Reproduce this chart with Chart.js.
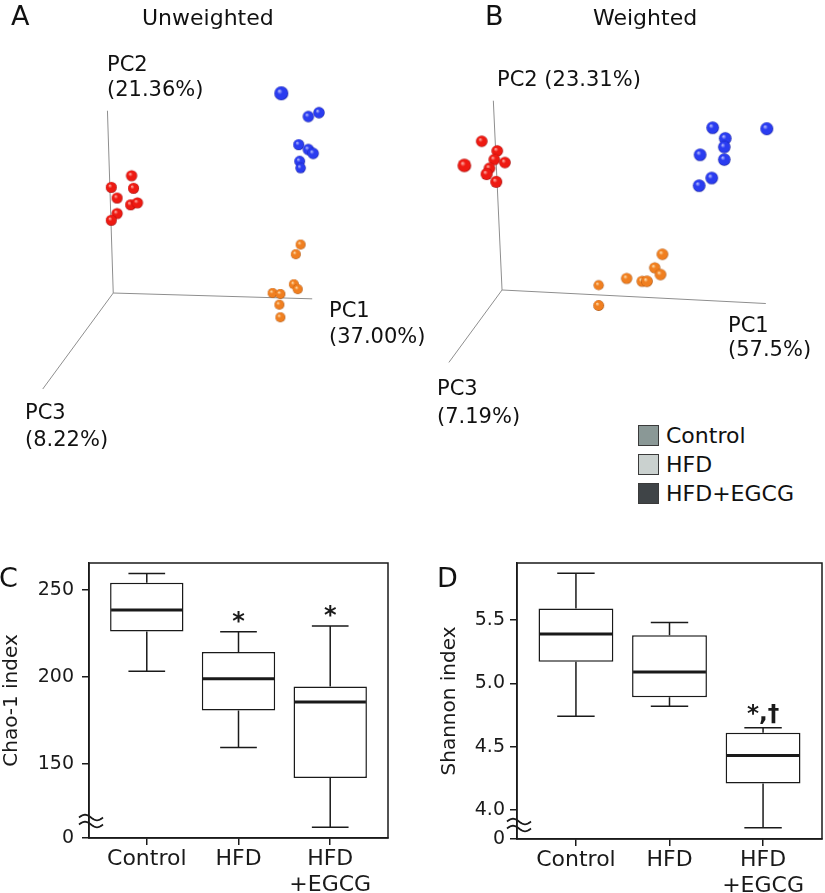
<!DOCTYPE html>
<html>
<head>
<meta charset="utf-8">
<script src="https://cdn.jsdelivr.net/npm/chart.js@4.4.1/dist/chart.umd.min.js"></script>
<style>
body{margin:0;background:#fff;}
#wrap{position:relative;width:825px;height:893px;overflow:hidden;font-family:"DejaVu Sans",sans-serif;color:#111;}
canvas{position:absolute;}
.t{position:absolute;white-space:pre;line-height:1;}
.sw{position:absolute;left:638px;width:21px;height:21px;box-sizing:border-box;border:1px solid #3a3a3a;}
</style>
</head>
<body>
<div id="wrap">
<canvas id="pcoaA" width="410" height="460" style="left:0;top:0"></canvas>
<canvas id="pcoaB" width="415" height="410" style="left:410px;top:0"></canvas>
<canvas id="chao" width="410" height="353" style="left:0;top:540px"></canvas>
<canvas id="shannon" width="415" height="353" style="left:410px;top:540px"></canvas>

<div class="t" style="left:11px;top:2px;font-size:27px">A</div>
<div class="t" style="left:142px;top:7px;font-size:22px">Unweighted</div>
<div class="t" style="left:107px;top:52px;font-size:21px;line-height:25px">PC2
(21.36%)</div>
<div class="t" style="left:329px;top:297px;font-size:21px;line-height:26px">PC1
(37.00%)</div>
<div class="t" style="left:25px;top:399px;font-size:21px;line-height:27px">PC3
(8.22%)</div>

<div class="t" style="left:485px;top:2px;font-size:27px">B</div>
<div class="t" style="left:593px;top:7px;font-size:22px">Weighted</div>
<div class="t" style="left:497px;top:67px;font-size:21px;line-height:25px">PC2 (23.31%)</div>
<div class="t" style="left:728px;top:313px;font-size:21px;line-height:24px">PC1
(57.5%)</div>
<div class="t" style="left:437px;top:374px;font-size:21px;line-height:28px">PC3
(7.19%)</div>

<div class="sw" style="top:425px;background:#8a9896"></div>
<div class="sw" style="top:454px;background:#cad1cf"></div>
<div class="sw" style="top:483px;background:#3f4447"></div>
<div class="t" style="left:666px;top:425px;font-size:22px">Control</div>
<div class="t" style="left:666px;top:454px;font-size:22px">HFD</div>
<div class="t" style="left:666px;top:483px;font-size:22px">HFD+EGCG</div>

<div class="t" style="left:-1px;top:564px;font-size:27px">C</div>
<div class="t" style="left:437px;top:564px;font-size:27px">D</div>
</div>

<script>
// PCoA coordinates, projected to the figure plane (origin = corner of the axes, y up)
const unwRed = [[19,121],[-2,109],[21,108],[4,98],[18,91],[25,93],[4,82],[-2,75]];
const unwBlue = [[174,206],[202,182],[213,186],[192,153],[202,148],[207,144],[193,136],[194,129]];
const unwOrange = [[194,50],[189,40],[187,9],[191,4],[165,0],[173,-1],[172,-12],[173,-25]];
const unwAxisEnds = [[206,-6],[-6,188],[-73,-99]];

const wRed = [[-21,154],[-5,144],[-8,135],[3,132],[-39,129],[-13,126],[-16,120],[-6,112]];
const wBlue = [[218,168],[274,167],[231,157],[230,148],[205,140],[230,135],[217,116],[204,108]];
const wOrange = [[166,37],[158,23],[164,16],[129,12],[145,9],[150,9],[100,5],[100,-16]];
const wAxisEnds = [[273,-14],[-9,196],[-55,-75]];

// alpha diversity box plots
const groupLabels = ['Control', 'HFD', ['HFD', '+EGCG']];
const chaoLow = [203.3, 159.5, 113.7];
const chaoQ1 = [226.1, 180.7, 142.0];
const chaoMed = [238.5, 199.0, 185.7];
const chaoQ3 = [254.2, 214.3, 194.6];
const chaoHigh = [259.4, 226.0, 229.3];
const chaoTicks = [150, 200, 250];
const chaoMarks = ['', '*', '*'];

const shanLow = [4.74, 4.82, 3.86];
const shanQ1 = [5.17, 4.89, 4.21];
const shanMed = [5.39, 5.09, 4.43];
const shanQ3 = [5.59, 5.38, 4.61];
const shanHigh = [5.87, 5.48, 4.65];
const shanTicks = [4.0, 4.5, 5.0, 5.5];
const shanMarks = ['', '', '*,\u2020'];

const ink = '#1a1a1a';
Chart.defaults.font.family = '"DejaVu Sans", sans-serif';
Chart.defaults.color = ink;

const red = {light: '#ffb0a8', base: '#ee1a12', dark: '#9a0606'};
const blue = {light: '#b8beff', base: '#2a3cf0', dark: '#10199c'};
const orange = {light: '#ffe0b0', base: '#f07f20', dark: '#a04a08'};

const sphereCache = {};
function sphere(col, r) {
    const key = col.base + r;
    if (sphereCache[key]) return sphereCache[key];
    const c = document.createElement('canvas');
    const s = Math.ceil(r * 2) + 2;
    c.width = c.height = s;
    const g = c.getContext('2d');
    const m = s / 2;
    const grad = g.createRadialGradient(m - r * 0.3, m - r * 0.35, r * 0.05, m, m, r);
    grad.addColorStop(0, col.light);
    grad.addColorStop(0.35, col.base);
    grad.addColorStop(0.85, col.base);
    grad.addColorStop(1, col.dark);
    g.fillStyle = grad;
    g.beginPath();
    g.arc(m, m, r, 0, Math.PI * 2);
    g.fill();
    sphereCache[key] = c;
    return c;
}

function pcoaChart(id, xr, yr, axisEnds, groups) {
    const lines = axisEnds.map(e => ({
        data: [{x: 0, y: 0}, {x: e[0], y: e[1]}],
        showLine: true, borderColor: '#8e8e8e', borderWidth: 1, pointRadius: 0, order: 10
    }));
    const pts = groups.map(g => ({
        data: g.pts.map(p => ({x: p[0], y: p[1]})),
        pointStyle: c => sphere(g.col, g.r[c.dataIndex] || 5),
        pointRadius: 6, order: 0
    }));
    return new Chart(document.getElementById(id), {
        type: 'scatter',
        data: {datasets: lines.concat(pts)},
        options: {
            responsive: false,
            animation: false,
            layout: {padding: 0},
            plugins: {legend: {display: false}, tooltip: {enabled: false}},
            scales: {
                x: {type: 'linear', display: false, min: xr[0], max: xr[1]},
                y: {type: 'linear', display: false, min: yr[0], max: yr[1]}
            }
        }
    });
}

pcoaChart('pcoaA', [-110, 300], [-165, 295], unwAxisEnds, [
    {pts: unwRed, col: red, r: [5.6, 5.5, 5.5, 5.5, 5.5, 5.6, 5.6, 5.5]},
    {pts: unwBlue, col: blue, r: [7, 5.7, 5.7, 5.5, 5.7, 5.7, 5.4, 5.2]},
    {pts: unwOrange, col: orange, r: [5, 5, 5, 5, 5, 5, 5, 5]}
]);
pcoaChart('pcoaB', [-88, 327], [-117, 293], wAxisEnds, [
    {pts: wRed, col: red, r: [5.8, 5.8, 5.8, 5.8, 6.8, 5.8, 6, 6]},
    {pts: wBlue, col: blue, r: [6.3, 6.5, 6.3, 6.2, 6.3, 6.2, 6.3, 6.3]},
    {pts: wOrange, col: orange, r: [5.8, 5.6, 5.8, 5.6, 5.6, 5.8, 5.1, 5.4]}
]);

function boxPlot(o) {
    function wave(ctx, x0, x1, y0) {
        for (let k = 0; k <= 24; k++) {
            const t = k / 24;
            const px = x0 + t * (x1 - x0);
            const py = y0 - 2.8 * Math.sin(t * Math.PI * 2);
            if (k === 0) ctx.moveTo(px, py); else ctx.lineTo(px, py);
        }
    }
    return {
        id: 'boxPlot',
        afterDatasetsDraw(chart) {
            const {ctx, chartArea: a, scales: {x, y}} = chart;
            const bars = chart.getDatasetMeta(0).data;
            ctx.save();
            ctx.strokeStyle = ink;
            ctx.fillStyle = ink;
            o.med.forEach((m, i) => {
                const cx = x.getPixelForValue(i + 1);
                const hw = bars[i].width / 2;
                const cap = hw / 2;
                const yLow = y.getPixelForValue(o.low[i]);
                const yHigh = y.getPixelForValue(o.high[i]);
                ctx.lineWidth = 1.5;
                ctx.beginPath();
                ctx.moveTo(cx, y.getPixelForValue(o.q3[i]));
                ctx.lineTo(cx, yHigh);
                ctx.moveTo(cx - cap, yHigh);
                ctx.lineTo(cx + cap, yHigh);
                ctx.moveTo(cx, y.getPixelForValue(o.q1[i]));
                ctx.lineTo(cx, yLow);
                ctx.moveTo(cx - cap, yLow);
                ctx.lineTo(cx + cap, yLow);
                ctx.stroke();
                ctx.lineWidth = 3;
                ctx.beginPath();
                ctx.moveTo(cx - hw + 1, y.getPixelForValue(m));
                ctx.lineTo(cx + hw - 1, y.getPixelForValue(m));
                ctx.stroke();
                if (o.marks[i]) {
                    ctx.font = o.markFont;
                    ctx.textAlign = 'center';
                    ctx.textBaseline = 'alphabetic';
                    const mt = ctx.measureText(o.marks[i]);
                    ctx.fillText(o.marks[i], cx, yHigh - o.markGap - mt.actualBoundingBoxDescent);
                }
            });
            ctx.lineWidth = 1.5;
            ctx.strokeRect(a.left, a.top, a.width, a.height);
            // axis break sign
            const by = a.bottom - o.breakGap;
            ctx.lineWidth = 1.8;
            ctx.beginPath();
            wave(ctx, a.left - 10, a.left + 14, by - 3.5);
            wave(ctx, a.left - 10, a.left + 14, by + 3.5);
            ctx.stroke();
            ctx.restore();
        }
    };
}

function boxChart(id, o) {
    return new Chart(document.getElementById(id), {
        type: 'bar',
        data: {
            datasets: [{
                data: o.q1.map((v, i) => ({x: i + 1, y: [v, o.q3[i]]})),
                backgroundColor: '#fff',
                borderColor: ink,
                borderWidth: 1.5,
                borderSkipped: false,
                categoryPercentage: 1,
                barPercentage: 0.8
            }]
        },
        options: {
            responsive: false,
            animation: false,
            layout: {padding: {top: 23, right: o.padRight, left: 0, bottom: 0}},
            plugins: {legend: {display: false}, tooltip: {enabled: false}},
            scales: {
                x: {
                    type: 'linear', min: 0.37, max: 3.63, offset: false,
                    afterBuildTicks: s => { s.ticks = groupLabels.map((_, i) => ({value: i + 1})); },
                    afterFit: s => { s.height = o.xHeight; },
                    ticks: {
                        callback: v => groupLabels[v - 1],
                        font: {size: 22, lineHeight: 1.15}, color: ink,
                        padding: 2, maxRotation: 0, autoSkip: false
                    },
                    grid: {offset: false, drawOnChartArea: false, tickLength: 7, color: ink, lineWidth: 1.5},
                    border: {color: ink, width: 1.5}
                },
                y: {
                    type: 'linear', min: o.min, max: o.max,
                    afterBuildTicks: s => { s.ticks = [o.min].concat(o.ticks).map(v => ({value: v})); },
                    afterFit: s => { s.width = o.yWidth; },
                    ticks: {
                        callback: v => v === o.min ? '0' : v.toFixed(o.digits),
                        font: {size: 19}, color: ink, padding: o.tickPad
                    },
                    grid: {drawOnChartArea: false, tickLength: 7, color: ink, lineWidth: 1.5},
                    border: {color: ink, width: 1.5},
                    title: {
                        display: true, text: o.title, color: ink,
                        font: {size: 20}, padding: {top: o.titlePad, bottom: 0}
                    }
                }
            }
        },
        plugins: [boxPlot(o)]
    });
}

boxChart('chao', {
    low: chaoLow, q1: chaoQ1, med: chaoMed, q3: chaoQ3, high: chaoHigh,
    ticks: chaoTicks, marks: chaoMarks, min: 107.5, max: 265.5, digits: 0,
    title: 'Chao-1 index', yWidth: 89, xHeight: 55, padRight: 22,
    tickPad: 8, titlePad: 0, markGap: 9, breakGap: 17, markFont: 'bold 24px "DejaVu Sans"'
});
boxChart('shannon', {
    low: shanLow, q1: shanQ1, med: shanMed, q3: shanQ3, high: shanHigh,
    ticks: shanTicks, marks: shanMarks, min: 3.771, max: 5.95, digits: 1,
    title: 'Shannon index', yWidth: 107, xHeight: 54, padRight: 3,
    tickPad: 5, titlePad: 28, markGap: 4, breakGap: 14, markFont: 'bold 23px "DejaVu Sans"'
});
</script>
</body>
</html>
